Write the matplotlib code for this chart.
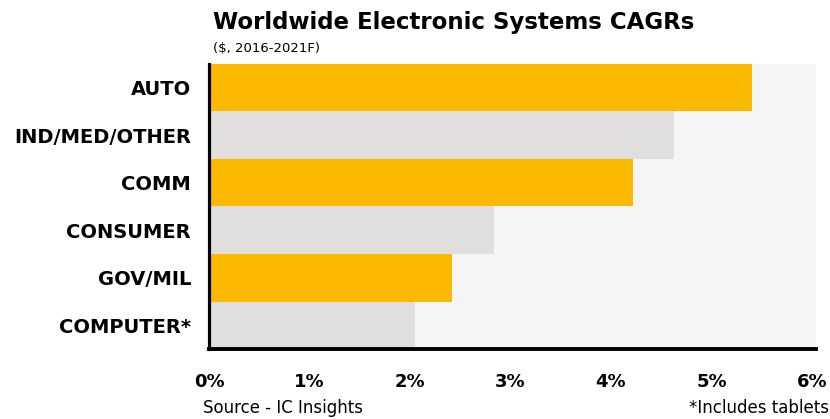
import matplotlib
matplotlib.use("Agg")
import matplotlib.pyplot as plt

# values (percent CAGR, 2016-2021F)
categories = ["AUTO", "IND/MED/OTHER", "COMM", "CONSUMER", "GOV/MIL", "COMPUTER*"]
cagr = [5.4, 4.63, 4.22, 2.84, 2.42, 2.05]
bar_colors = ["#FBB900", "#E0DFDE", "#FBB900", "#E0DFDE", "#FBB900", "#E0DFDE"]
xticks = [0, 1, 2, 3, 4, 5, 6]
xtick_labels = ["0%", "1%", "2%", "3%", "4%", "5%", "6%"]

plt.rcParams["font.family"] = ["DejaVu Sans"]

fig = plt.figure(figsize=(8.3, 4.19), dpi=100)
ax = fig.add_axes([209 / 830, 1 - 349 / 419, (816 - 209) / 830, (349 - 64) / 419])
ax.set_facecolor("#F5F5F5")

y = list(range(len(categories)))
ax.barh(y, cagr, height=1.0, color=bar_colors, zorder=2)
ax.set_ylim(len(categories) - 0.5, -0.5)
ax.set_xlim(0, 6.04)

ax.set_yticks(y)
ax.set_yticklabels(categories, fontsize=14, fontweight="bold")
ax.set_xticks(xticks)
ax.set_xticklabels(xtick_labels, fontsize=13, fontweight="bold")
ax.tick_params(axis="y", length=0, pad=13)
ax.tick_params(axis="x", length=0, pad=17)

for side in ["top", "right"]:
    ax.spines[side].set_visible(False)
ax.spines["left"].set_linewidth(2.3)
ax.spines["bottom"].set_linewidth(2.8)
ax.spines["left"].set_zorder(3)
ax.spines["bottom"].set_zorder(3)

fig.text(213 / 830, 1 - 29 / 419, "Worldwide Electronic Systems CAGRs",
         fontsize=16.5, fontweight="bold", ha="left", va="baseline")
fig.text(213 / 830, 1 - 52 / 419, "($, 2016-2021F)",
         fontsize=9.5, ha="left", va="baseline")
fig.text(203 / 830, 1 - 413 / 419, "Source - IC Insights",
         fontsize=12, ha="left", va="baseline")
fig.text(829 / 830, 1 - 413 / 419, "*Includes tablets",
         fontsize=12, ha="right", va="baseline")

fig.savefig("out.png", dpi=100)
